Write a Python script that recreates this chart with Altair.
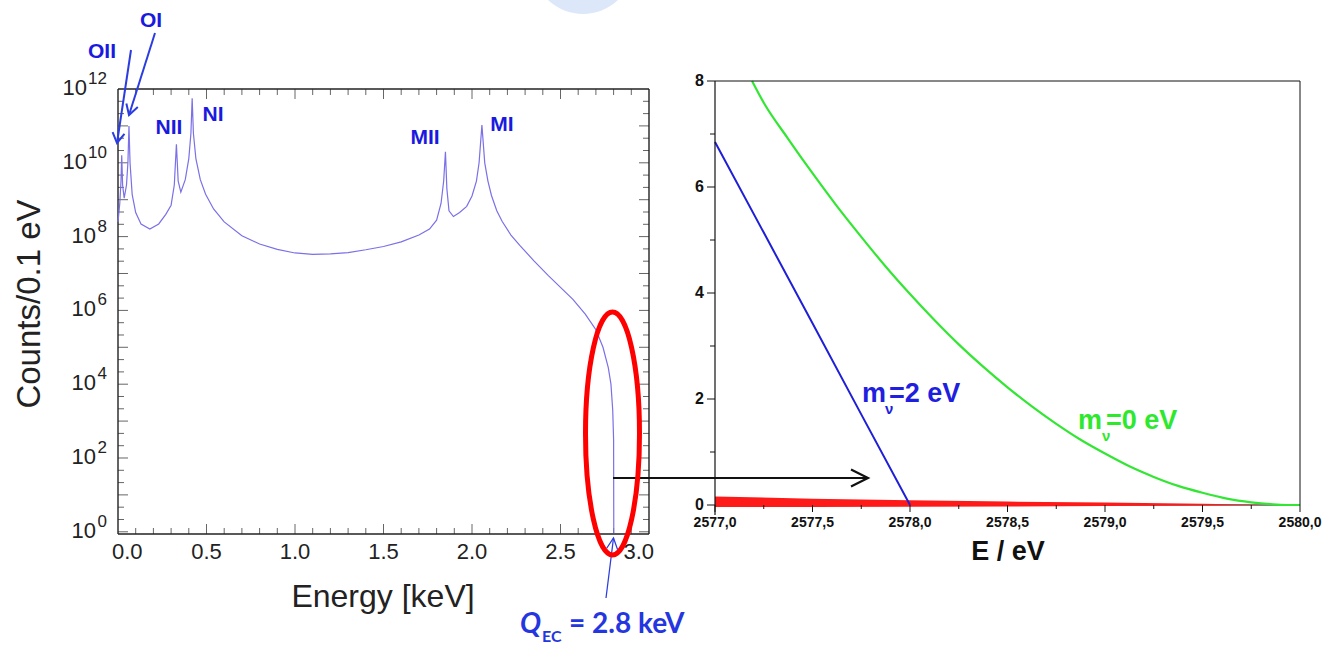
import altair as alt
import pandas as pd

# ---------------- left panel: EC spectrum (keV, counts per 0.1 eV) ----------------
energy_kev = [0.000, 0.010, 0.017, 0.021, 0.026, 0.035, 0.048, 0.056, 0.062, 0.068,
              0.080, 0.100, 0.130, 0.180, 0.230, 0.270, 0.300, 0.318, 0.330, 0.340,
              0.355, 0.380, 0.400, 0.412, 0.419, 0.426, 0.440, 0.465, 0.495, 0.540,
              0.600, 0.700, 0.800, 0.900, 1.000, 1.100, 1.200, 1.300, 1.400, 1.500,
              1.600, 1.700, 1.760, 1.800, 1.825, 1.840, 1.850, 1.858, 1.870, 1.895,
              1.930, 1.970, 2.000, 2.025, 2.040, 2.056, 2.072, 2.090, 2.110, 2.140,
              2.170, 2.220, 2.270, 2.350, 2.430, 2.500, 2.570, 2.640, 2.700, 2.740,
              2.770, 2.785, 2.795, 2.800, 2.801]
counts = [2.5e8, 7.9e8, 3.2e9, 1.6e10, 2.5e9, 1.1e9, 2.5e9, 1.0e10, 1.0e11, 1.0e10,
          1.4e9, 4.5e8, 2.2e8, 1.6e8, 2.2e8, 4.0e8, 7.1e8, 2.5e9, 3.2e10, 3.2e9,
          1.6e9, 3.5e9, 1.3e10, 6.3e10, 5.6e11, 6.3e10, 1.3e10, 3.5e9, 1.4e9, 5.6e8,
          2.5e8, 1.05e8, 6.3e7, 4.5e7, 3.6e7, 3.3e7, 3.4e7, 3.7e7, 4.4e7, 5.4e7,
          7.2e7, 1.1e8, 1.6e8, 2.8e8, 7.9e8, 3.2e9, 2.0e10, 2.0e9, 5.0e8, 3.5e8,
          4.5e8, 6.6e8, 1.26e9, 3.2e9, 1.0e10, 1.05e11, 1.0e10, 3.2e9, 1.3e9, 5.0e8,
          2.6e8, 1.1e8, 5.8e7, 2.2e7, 8.9e6, 4.2e6, 2.0e6, 7.9e5, 3.0e5, 1.0e5,
          2.8e4, 1.0e4, 2.0e3, 3.2e2, 0.9]
x_tick_values = [0.5, 1.0, 1.5, 2.0, 2.5]
x_tick_text = ["0.5", "1.0", "1.5", "2.0", "2.5"]
x_first_text, x_last_text = "0.0", "3.0"
y_label_two = [1e10, 1e12]
y_label_two_exp = ["10", "12"]
y_label_one = [1e0, 1e2, 1e4, 1e6, 1e8]
y_label_one_exp = ["0", "2", "4", "6", "8"]
shell_names = ["OII", "OI", "NII", "NI", "MII", "MI"]

# ---------------- right panel: endpoint region (eV, counts) ----------------
e_blue = [2577.0, 2577.25, 2577.5, 2577.75, 2578.0]
rate_blue = [6.85, 5.14, 3.43, 1.71, 0.0]
e_green = [2577.19, 2577.25, 2577.375, 2577.5, 2577.625, 2577.75, 2577.875, 2578.0,
           2578.125, 2578.25, 2578.375, 2578.5, 2578.625, 2578.75, 2578.875, 2579.0,
           2579.125, 2579.25, 2579.375, 2579.5, 2579.625, 2579.75, 2579.85, 2579.93, 2580.0]
rate_green = [8.0, 7.59, 6.91, 6.26, 5.64, 5.06, 4.50, 3.98,
              3.49, 3.03, 2.61, 2.22, 1.86, 1.53, 1.23, 0.97,
              0.73, 0.53, 0.36, 0.23, 0.12, 0.05, 0.015, 0.0, 0.0]
e_red = [2577.0, 2577.5, 2578.0, 2578.5, 2579.0, 2579.5, 2579.85]
red_hi = [0.16, 0.12, 0.09, 0.065, 0.045, 0.025, 0.0]
red_lo = [-0.04, -0.04, -0.035, -0.03, -0.02, -0.01, 0.0]
x2_tick_values = [2577.0, 2577.5, 2578.0, 2578.5, 2579.0, 2579.5, 2580.0]
x2_tick_text = ["2577,0", "2577,5", "2578,0", "2578,5", "2579,0", "2579,5", "2580,0"]
y2_tick_values = [0, 2, 4, 6, 8]
y2_tick_text = ["0", "2", "4", "6", "8"]

# ---------------- helpers ----------------
W1, H1 = 531, 453
W2, H2 = 585, 424
Y_MIN, Y_MAX = 10 ** -0.06, 10 ** 12.217
FONT = "Liberation Sans"
BLUE_TXT = "#1a1adf"
BLUE_ARR = "#2b3de0"
FRAME = "#222"

one = pd.DataFrame({"a": [0]})
xs1 = alt.Scale(domain=[0, 3.0], nice=False, zero=False)
ys1 = alt.Scale(type="log", domain=[Y_MIN, Y_MAX], nice=False)

df_spec = pd.DataFrame({"E": energy_kev, "C": counts})

spectrum = alt.Chart(df_spec).mark_line(color="#7a70e8", strokeWidth=1.2).encode(
    x=alt.X("E:Q", scale=xs1, axis=None),
    y=alt.Y("C:Q", scale=ys1, axis=None),
)

frame_top = alt.Chart(one).mark_rule(color=FRAME, strokeWidth=1.4).encode(
    x=alt.XDatum(0, scale=xs1, axis=None), x2=alt.datum(3.0), y=alt.YDatum(1e12, scale=ys1, axis=None))
frame_bot = alt.Chart(one).mark_rule(color=FRAME, strokeWidth=1.4).encode(
    x=alt.XDatum(0, scale=xs1, axis=None), x2=alt.datum(3.0), y=alt.value(H1))
frame_l = alt.Chart(one).mark_rule(color=FRAME, strokeWidth=1.4).encode(
    x=alt.XDatum(0, scale=xs1, axis=None), y=alt.YDatum(1e12, scale=ys1, axis=None), y2=alt.value(H1))
frame_r = alt.Chart(one).mark_rule(color=FRAME, strokeWidth=1.4).encode(
    x=alt.XDatum(3.0, scale=xs1, axis=None), y=alt.YDatum(1e12, scale=ys1, axis=None), y2=alt.value(H1))

x_minor = [round(0.1 * i, 1) for i in range(1, 30) if i % 5 != 0]
y_major = [10.0 ** k for k in range(0, 12)]
y_minor = [10.0 ** (k + f) for k in range(0, 12) for f in (1 / 3, 2 / 3)]

def xticks(vals, ln):
    d = pd.DataFrame({"t": vals})
    b = alt.Chart(d).mark_rule(color="#666", strokeWidth=1).encode(
        x=alt.X("t:Q", scale=xs1, axis=None), y=alt.value(H1), y2=alt.value(H1 - ln))
    t = alt.Chart(d).mark_rule(color="#666", strokeWidth=1).encode(
        x=alt.X("t:Q", scale=xs1, axis=None), y=alt.value(8), y2=alt.value(8 + ln))
    return [b, t]

def yticks(vals, ln):
    d = pd.DataFrame({"t": vals})
    l = alt.Chart(d).mark_rule(color="#666", strokeWidth=1).encode(
        y=alt.Y("t:Q", scale=ys1, axis=None), x=alt.value(0), x2=alt.value(ln))
    r = alt.Chart(d).mark_rule(color="#666", strokeWidth=1).encode(
        y=alt.Y("t:Q", scale=ys1, axis=None), x=alt.value(W1), x2=alt.value(W1 - ln))
    return [l, r]

tick_layers = xticks(x_minor, 6) + xticks(x_tick_values, 10) + yticks(y_minor, 6) + yticks(y_major, 10)

# x tick labels (left)
df_xl = pd.DataFrame({"v": x_tick_values, "s": x_tick_text})
xlab_mid = alt.Chart(df_xl).mark_text(font=FONT, fontSize=22, color=FRAME, baseline="middle").encode(
    x=alt.X("v:Q", scale=xs1, axis=None), y=alt.value(471), text="s:N")
xlab_first = alt.Chart(one).mark_text(font=FONT, fontSize=22, color=FRAME, baseline="middle",
                                      align="left", dx=-6).encode(
    x=alt.XDatum(0.0, scale=xs1, axis=None), y=alt.value(471), text=alt.value(x_first_text))
xlab_last = alt.Chart(one).mark_text(font=FONT, fontSize=22, color=FRAME, baseline="middle",
                                     align="right", dx=5).encode(
    x=alt.XDatum(3.0, scale=xs1, axis=None), y=alt.value(471), text=alt.value(x_last_text))

def ylabels(vals, exps, mant_x):
    d = pd.DataFrame({"v": vals, "e": exps})
    m = alt.Chart(d).mark_text(font=FONT, fontSize=22, color=FRAME, align="right",
                               baseline="middle", dy=-1).encode(
        y=alt.Y("v:Q", scale=ys1, axis=None), x=alt.value(mant_x), text=alt.value("10"))
    e = alt.Chart(d).mark_text(font=FONT, fontSize=17, color=FRAME, align="right",
                               baseline="middle", dy=-10).encode(
        y=alt.Y("v:Q", scale=ys1, axis=None), x=alt.value(-11), text="e:N")
    return [m, e]

ylab_layers = ylabels(y_label_two, y_label_two_exp, -31) + ylabels(y_label_one, y_label_one_exp, -22)

def txt(s, x, y, size, color, weight="normal", align="center", baseline="middle",
        angle=0, font=FONT, style="normal"):
    kw = dict(font=font, fontSize=size, color=color, fontWeight=weight, align=align,
              baseline=baseline, fontStyle=style)
    if angle:
        kw["angle"] = angle
    return alt.Chart(one).mark_text(**kw).encode(
        x=alt.value(x), y=alt.value(y), text=alt.value(s))

shell_pos = [(-16, -29), (33, -60), (51, 47), (95, 34), (307, 57), (384, 44)]
shell_layers = [txt(n, p[0], p[1], 21, BLUE_TXT, "bold") for n, p in zip(shell_names, shell_pos)]

def arrow(x0, y0, x1, y1, color, width, ang, size, shape="M-2,-1L0,0L-2,1"):
    line = alt.Chart(one).mark_rule(color=color, strokeWidth=width).encode(
        x=alt.value(x0), y=alt.value(y0), x2=alt.value(x1), y2=alt.value(y1))
    head = alt.Chart(one).mark_point(shape=shape, size=size, filled=False, color=color,
                                     strokeWidth=width, opacity=1, angle=ang).encode(
        x=alt.value(x1), y=alt.value(y1))
    return [line, head]

arrow_layers = (arrow(13, -31, -1, 62, BLUE_ARR, 2, 98.6, 144, "M-1.7,-1L0,0L-1.7,1")
                + arrow(37, -48, 11, 34, BLUE_ARR, 2, 107.6, 144, "M-1.7,-1L0,0L-1.7,1")
                + arrow(495, 397, 750, 397, "#111", 2.2, 0, 289)
                + arrow(488, 517, 495.5, 457, BLUE_ARR, 1.3, 277.1, 121))

ellipse = alt.Chart(one).mark_point(
    shape="M0,-1A0.2222,1 0 1,1 0,1A0.2222,1 0 1,1 0,-1Z", size=59049, filled=False,
    color="#ff0000", strokeWidth=5, opacity=1).encode(x=alt.value(494.5), y=alt.value(352.5))

deco = alt.Chart(one).mark_point(shape="M-1,0A1.45,1.45 0 0,0 1,0Z", size=4900,
                                 filled=True, color="#dce8fa", opacity=1).encode(
    x=alt.value(465), y=alt.value(-81))
corner = alt.Chart(one).mark_rule(strokeOpacity=0, color="white").encode(
    x=alt.value(-118), x2=alt.value(-117), y=alt.value(-81))

titles_left = [
    txt("Counts/0.1 eV", -88, 223, 33, FRAME, angle=270),
    txt("Energy [keV]", 265, 516, 32, FRAME),
    txt("Q", 402, 552, 28, "#2436e0", "bold", "left", "alphabetic", font="Lato", style="italic"),
    txt("EC", 424, 561, 16, "#2436e0", "bold", "left", "alphabetic", font="Lato"),
    txt("= 2.8 keV", 451, 552, 28, "#2436e0", "bold", "left", "alphabetic", font="Lato"),
]

left = alt.layer(
    corner, deco, *tick_layers, frame_top, frame_bot, frame_l, frame_r, spectrum,
    xlab_mid, xlab_first, xlab_last, *ylab_layers,
    *shell_layers, *arrow_layers, ellipse, *titles_left
).properties(width=W1, height=H1)

# ---------------- right panel ----------------
xs2 = alt.Scale(domain=[2577, 2580], nice=False, zero=False)
ys2 = alt.Scale(domain=[0, 8], nice=False, zero=False)
AX = "#111"

df_red = pd.DataFrame({"E": e_red, "hi": red_hi, "lo": red_lo})
df_blue = pd.DataFrame({"E": e_blue, "R": rate_blue})
df_green = pd.DataFrame({"E": e_green, "R": rate_green})

red = alt.Chart(df_red).mark_area(color="#ff1a1a", opacity=1).encode(
    x=alt.X("E:Q", scale=xs2, axis=None), y=alt.Y("lo:Q", scale=ys2, axis=None), y2="hi:Q")
blue = alt.Chart(df_blue).mark_line(color="#1f1fd8", strokeWidth=2).encode(
    x=alt.X("E:Q", scale=xs2, axis=None), y=alt.Y("R:Q", scale=ys2, axis=None))
green = alt.Chart(df_green).mark_line(color="#33e633", strokeWidth=2.2, interpolate="monotone").encode(
    x=alt.X("E:Q", scale=xs2, axis=None), y=alt.Y("R:Q", scale=ys2, axis=None))

r_top = alt.Chart(one).mark_rule(color=AX, strokeWidth=1).encode(
    x=alt.XDatum(2577, scale=xs2, axis=None), x2=alt.datum(2580), y=alt.YDatum(8, scale=ys2, axis=None))
r_right = alt.Chart(one).mark_rule(color=AX, strokeWidth=1).encode(
    x=alt.XDatum(2580, scale=xs2, axis=None), y=alt.YDatum(0, scale=ys2, axis=None), y2=alt.datum(8))
r_left = alt.Chart(one).mark_rule(color=AX, strokeWidth=1.2).encode(
    x=alt.XDatum(2577, scale=xs2, axis=None), y=alt.YDatum(8, scale=ys2, axis=None), y2=alt.value(H2 + 10))
r_bottom = alt.Chart(one).mark_rule(color=AX, strokeWidth=1).encode(
    x=alt.XDatum(2577, scale=xs2, axis=None), x2=alt.datum(2580), y=alt.YDatum(0, scale=ys2, axis=None))

df_y2 = pd.DataFrame({"t": y2_tick_values, "s": y2_tick_text})
df_x2 = pd.DataFrame({"t": x2_tick_values, "s": x2_tick_text})
r_ymajor = alt.Chart(df_y2).mark_rule(color=AX, strokeWidth=1).encode(
    y=alt.Y("t:Q", scale=ys2, axis=None), x=alt.value(-8), x2=alt.value(0))
r_ylab = alt.Chart(df_y2).mark_text(font=FONT, fontSize=16, fontWeight="bold", color=AX,
                                    align="right", baseline="middle").encode(
    y=alt.Y("t:Q", scale=ys2, axis=None), x=alt.value(-11), text="s:N")
r_xmajor = alt.Chart(df_x2).mark_rule(color=AX, strokeWidth=1).encode(
    x=alt.X("t:Q", scale=xs2, axis=None), y=alt.value(H2), y2=alt.value(H2 + 7))
r_xlab = alt.Chart(df_x2).mark_text(font=FONT, fontSize=14, fontWeight="bold", color=AX,
                                    baseline="middle").encode(
    x=alt.X("t:Q", scale=xs2, axis=None), y=alt.value(H2 + 18), text="s:N")

y2_minor = pd.DataFrame({"t": [1, 3, 5, 7]})
x2_minor = pd.DataFrame({"t": [2577.25, 2577.75, 2578.25, 2578.75, 2579.25, 2579.75]})
r_yminor = alt.Chart(y2_minor).mark_rule(color=AX, strokeWidth=1).encode(
    y=alt.Y("t:Q", scale=ys2, axis=None), x=alt.value(-5), x2=alt.value(0))
r_xminor = alt.Chart(x2_minor).mark_rule(color=AX, strokeWidth=1).encode(
    x=alt.X("t:Q", scale=xs2, axis=None), y=alt.value(H2), y2=alt.value(H2 + 4))

BL2 = "#1f1fe0"
GR2 = "#2ee82e"
right_text = [
    txt("m", 147, 321, 27, BL2, "bold", "left", "alphabetic"),
    txt("ν", 170, 333, 15, BL2, "bold", "left", "alphabetic"),
    txt("=2 eV", 174, 321, 27, BL2, "bold", "left", "alphabetic"),
    txt("m", 363, 348, 27, GR2, "bold", "left", "alphabetic"),
    txt("ν", 387, 360, 15, GR2, "bold", "left", "alphabetic"),
    txt("=0 eV", 391, 348, 27, GR2, "bold", "left", "alphabetic"),
    txt("E / eV", 293, 471, 27, AX, "bold"),
]

right = alt.layer(r_bottom, red, blue, green, r_top, r_right, r_left, r_ymajor, r_ylab,
                  r_xmajor, r_xlab, r_yminor, r_xminor, *right_text
                  ).properties(width=W2, height=H2)

chart = alt.hconcat(left, right, spacing=66, bounds="flush").properties(
    padding=0, background="white"
).configure_view(strokeWidth=0)

chart.save("out.html", embed_options={"renderer": "svg", "actions": False})
